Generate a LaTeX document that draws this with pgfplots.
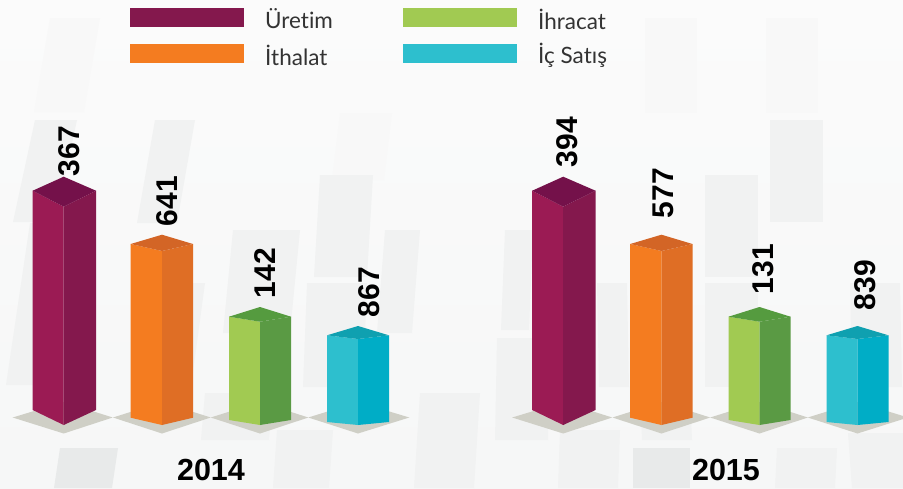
\documentclass[border=0pt]{standalone}
\usepackage{pgfplots}
\usepackage{fontspec}
\setmainfont{Liberation Sans}
\newfontfamily\legfont[Ligatures=NoCommon]{Lato}
\pgfplotsset{compat=1.18}
\definecolor{bgc}{HTML}{F6F7F7}
\definecolor{bgt}{HTML}{FBFBFB}
\definecolor{tile}{HTML}{F1F2F2}
\definecolor{tilef}{HTML}{F8F8F8}
\definecolor{tiled}{HTML}{E8EAEA}
\definecolor{shad}{HTML}{CFCFC6}
\definecolor{mf}{HTML}{9B1B54}\definecolor{ms}{HTML}{84184D}\definecolor{mt}{HTML}{74114A}
\definecolor{of}{HTML}{F47C20}\definecolor{os}{HTML}{DF6E25}\definecolor{ot}{HTML}{D36526}
\definecolor{gf}{HTML}{A1CA52}\definecolor{gs}{HTML}{5A9A44}\definecolor{gt}{HTML}{559B3F}
\definecolor{cf}{HTML}{2DBFCE}\definecolor{cs}{HTML}{00ADC6}\definecolor{ct}{HTML}{0FA0B0}
% #1 left x, #2 mid x, #3 right x, #4 shoulder y, #5 back y, #6 front top y, #7 foot y, #8 colour prefix
\newcommand\bartd[8]{%
  \addplot[fill=#8f,draw=none] coordinates {(#1,#4)(#2,#6)(#2,425)(#1,#7)} -- cycle;
  \addplot[fill=#8s,draw=none] coordinates {(#2,#6)(#3,#4)(#3,#7)(#2,425)} -- cycle;
  \addplot[fill=#8t,draw=none] coordinates {(#1,#4)(#2,#5)(#3,#4)(#2,#6)} -- cycle;
}
% shadow diamond: left, mid, right
\newcommand\shad[3]{\addplot[fill=shad,draw=none] coordinates {(#1,417.5)(#2,402)(#3,417.5)(#2,433.5)} -- cycle;}
% background tile: top-left x, top y, top-right x, bottom y, slant
\newcommand\para[6][tile]{\addplot[fill=#1,draw=none] coordinates {(#2,#3)(#4,#3)(#4-#6,#5)(#2-#6,#5)} -- cycle;}
\newcommand\swatch[4]{\addplot[fill=#4,draw=none] coordinates {(#1,#2)(#1+114,#2)(#1+114,#3)(#1,#3)} -- cycle;}
\begin{document}
\begin{tikzpicture}
\begin{axis}[width=903pt,height=488pt,scale only axis,xmin=0,xmax=903,ymin=0,ymax=488,y dir=reverse,
  hide axis,clip=true]
% background
\addplot[top color=bgt,bottom color=bgc,draw=none] coordinates {(0,0)(903,0)(903,488)(0,488)} -- cycle;
% upper rows
\para[tilef]{50}{18}{100}{112}{16}
\para[tilef]{645}{18}{697}{113}{0}
\para[tilef]{766}{18}{818}{113}{0}
\para[tilef]{340}{113}{392}{180}{8}
% middle rows
\para{35}{120}{77}{222}{22}
\para{155}{120}{195}{223}{18}
\para{770}{120}{823}{222}{0}
\para{320}{175}{373}{277}{6}
\para{705}{175}{758}{277}{0}
\para{233}{230}{300}{333}{10}
\para{385}{230}{420}{333}{8}
\para{505}{230}{533}{330}{4}
\para{307}{283}{367}{387}{4}
\para{705}{283}{758}{387}{0}
\para{597}{283}{627}{387}{-2}
\para{30}{223}{67}{385}{24}
\para{150}{283}{205}{387}{14}
\para{850}{283}{900}{387}{-2}
% bottom rows
\para{205}{393}{273}{440}{4}
\para{277}{430}{333}{488}{4}
\para{497}{338}{550}{440}{2}
\para{420}{393}{480}{488}{6}
\para{640}{393}{690}{440}{-2}
\para{848}{433}{903}{488}{-4}
\para{560}{430}{620}{488}{2}
\para{777}{448}{837}{488}{2}
\para[tiled]{60}{448}{118}{488}{6}
\para[tiled]{633}{448}{690}{488}{0}
\shad{12.7}{63.7}{112.7}\shad{113}{162}{210.7}\shad{210.7}{260}{308.3}\shad{308.3}{358}{409.3}
\shad{512.2}{563.2}{612.2}\shad{612.5}{661.5}{710.2}\shad{710.2}{759.5}{807.8}\shad{807.8}{857.5}{908}
\bartd{32.7}{63.7}{96}{190.7}{176.7}{206.7}{410}{m}
\bartd{130.7}{162}{193}{244}{234.7}{251}{417.7}{o}
\bartd{229}{260}{291}{316.7}{307}{321.7}{420}{g}
\bartd{327}{358}{389}{335.3}{326}{339}{422}{c}
\bartd{532.2}{563.2}{595.5}{190.7}{176.7}{206.7}{410}{m}
\bartd{630.2}{661.5}{692.5}{244}{234.7}{251}{417.7}{o}
\bartd{728.5}{759.5}{790.5}{316.7}{307}{321.7}{420}{g}
\bartd{826.5}{857.5}{888.5}{335.3}{326}{339}{422}{c}
% legend
\swatch{130}{8}{27}{ms}\swatch{130}{44}{63}{of}\swatch{403}{8}{27}{gf}\swatch{403}{44}{63}{cf}
\foreach \x/\y/\t in {265/19/Üretim,265/55/İthalat,538/19/İhracat,538/55/İç Satış}{
  \edef\tmp{\noexpand\node[anchor=west,inner sep=0pt,font=\noexpand\fontsize{22.5}{22.5}\noexpand\legfont,text=black!80] at (axis cs:\x,\y) {\t};}
  \tmp
}
% value labels
\foreach \x/\y/\t in {69/151/367,167/201/641,265/273/142,369/292/867,567/142/394,663/193/577,763/269/131,865/285/839}{
  \edef\tmp{\noexpand\node[rotate=90,font=\noexpand\fontsize{30}{30}\noexpand\bfseries] at (axis cs:\x,\y) {\t};}
  \tmp
}
\node[font=\fontsize{30.5}{30.5}\bfseries] at (axis cs:211,470) {2014};
\node[font=\fontsize{30.5}{30.5}\bfseries] at (axis cs:726,470) {2015};
\end{axis}
\end{tikzpicture}
\end{document}
